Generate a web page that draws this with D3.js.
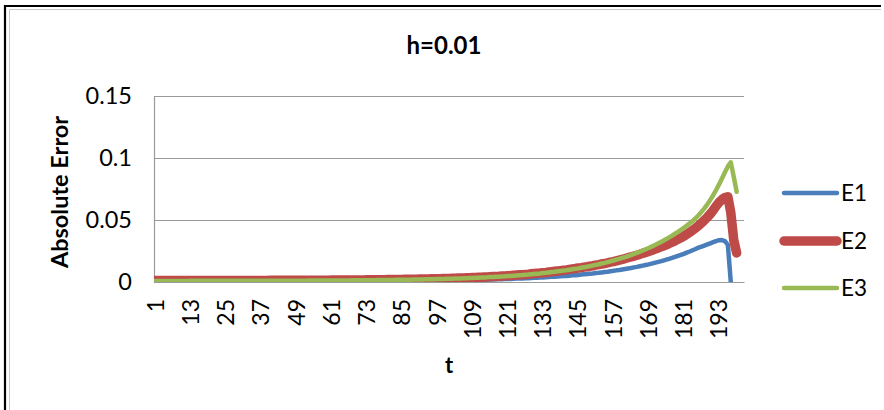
<!DOCTYPE html>
<html>
<head>
<meta charset="utf-8">
<script src="https://cdn.jsdelivr.net/npm/d3@7"></script>
<style>
  html, body { margin: 0; padding: 0; background: #fff; }
  svg { display: block; }
  text { font-family: Lato, "Open Sans", "Liberation Sans", sans-serif; fill: #000; }
</style>
</head>
<body>
<svg id="chart" width="884" height="410"></svg>
<script>
// ---- data ----
const chartTitle = "h=0.01";
const yTitle = "Absolute Error";
const xTitle = "t";
const categories = d3.range(1, 202);               // t = 1 ... 201 (category axis)
const xTickLabels = [1, 13, 25, 37, 49, 61, 73, 85, 97, 109, 121, 133, 145, 157, 169, 181, 193];
const yTickValues = [0, 0.05, 0.1, 0.15];
const yTickLabels = ["0", "0.05", "0.1", "0.15"];
const seriesNames = ["E1", "E2", "E3"];

const E1 = [
  .0005,.0005,.0005,.0005,.0005,.0005,.0005,.0005,.0005,.0005,
  .0005,.0005,.0005,.0005,.0005,.0005,.0005,.0005,.0005,.0005,
  .0005,.0005,.0005,.0005,.0005,.0005,.0005,.0005,.0005,.0005,
  .0005,.0005,.0005,.0005,.0005,.0005,.0005,.0005,.0005,.0006,
  .0006,.0006,.0006,.0006,.0006,.0006,.0006,.0006,.0006,.0006,
  .0006,.0006,.0006,.0006,.0006,.0006,.0006,.0006,.0006,.0006,
  .0007,.0007,.0007,.0007,.0007,.0007,.0007,.0007,.0007,.0007,
  .0007,.0007,.0008,.0008,.0008,.0008,.0008,.0008,.0008,.0009,
  .0009,.0009,.0009,.0009,.0009,.0010,.0010,.0010,.0010,.0010,
  .0011,.0011,.0011,.0011,.0012,.0012,.0012,.0012,.0013,.0014,
  .0014,.0014,.0015,.0015,.0015,.0016,.0016,.0017,.0017,.0018,
  .0018,.0019,.0019,.0020,.0021,.0021,.0022,.0022,.0023,.0024,
  .0025,.0025,.0027,.0028,.0029,.0029,.0030,.0031,.0033,.0034,
  .0035,.0036,.0037,.0038,.0040,.0042,.0043,.0045,.0046,.0048,
  .0049,.0051,.0054,.0055,.0057,.0060,.0062,.0064,.0067,.0069,
  .0072,.0074,.0077,.0080,.0083,.0087,.0090,.0094,.0097,.0101,
  .0105,.0109,.0113,.0118,.0122,.0127,.0132,.0137,.0142,.0148,
  .0154,.0160,.0166,.0173,.0180,.0187,.0194,.0202,.0210,.0218,
  .0227,.0237,.0246,.0256,.0266,.0277,.0285,.0294,.0303,.0312,
  .0321,.0330,.0337,.0338,.0330,.0300,.0000
];
const E2 = [
  .0012,.0012,.0012,.0012,.0012,.0012,.0012,.0012,.0012,.0012,
  .0012,.0012,.0013,.0013,.0013,.0013,.0013,.0013,.0013,.0013,
  .0013,.0013,.0013,.0013,.0013,.0013,.0013,.0013,.0013,.0013,
  .0013,.0013,.0013,.0013,.0013,.0013,.0013,.0013,.0013,.0014,
  .0014,.0014,.0014,.0014,.0014,.0014,.0014,.0014,.0014,.0014,
  .0014,.0014,.0015,.0015,.0015,.0015,.0015,.0015,.0015,.0015,
  .0016,.0016,.0016,.0016,.0016,.0016,.0016,.0017,.0017,.0017,
  .0017,.0017,.0018,.0018,.0018,.0018,.0019,.0019,.0019,.0020,
  .0020,.0020,.0021,.0021,.0021,.0022,.0022,.0022,.0023,.0023,
  .0024,.0024,.0025,.0025,.0026,.0026,.0027,.0027,.0028,.0029,
  .0029,.0030,.0031,.0032,.0032,.0033,.0034,.0035,.0036,.0037,
  .0038,.0039,.0040,.0041,.0043,.0044,.0045,.0046,.0048,.0049,
  .0051,.0052,.0054,.0056,.0058,.0059,.0061,.0063,.0066,.0068,
  .0070,.0072,.0075,.0077,.0080,.0083,.0086,.0089,.0092,.0095,
  .0098,.0102,.0106,.0109,.0113,.0116,.0120,.0123,.0127,.0131,
  .0136,.0140,.0145,.0149,.0154,.0160,.0165,.0171,.0177,.0183,
  .0189,.0196,.0202,.0209,.0216,.0223,.0231,.0238,.0246,.0254,
  .0263,.0272,.0281,.0290,.0300,.0310,.0321,.0332,.0344,.0356,
  .0370,.0385,.0401,.0418,.0436,.0455,.0476,.0498,.0522,.0548,
  .0578,.0612,.0642,.0665,.0681,.0688,.0560,.0340,.0234
];
const E3 = [
  .0009,.0009,.0009,.0009,.0009,.0009,.0009,.0009,.0009,.0009,
  .0009,.0009,.0010,.0010,.0010,.0010,.0010,.0010,.0010,.0010,
  .0010,.0010,.0010,.0010,.0010,.0010,.0010,.0010,.0010,.0010,
  .0010,.0010,.0010,.0010,.0010,.0010,.0010,.0010,.0010,.0011,
  .0011,.0011,.0011,.0011,.0011,.0011,.0011,.0011,.0011,.0011,
  .0011,.0011,.0012,.0012,.0012,.0012,.0012,.0012,.0012,.0012,
  .0013,.0013,.0013,.0013,.0013,.0013,.0013,.0014,.0014,.0014,
  .0014,.0014,.0015,.0015,.0015,.0015,.0016,.0016,.0016,.0017,
  .0017,.0017,.0018,.0018,.0018,.0019,.0019,.0019,.0020,.0020,
  .0021,.0021,.0022,.0022,.0023,.0023,.0024,.0024,.0025,.0026,
  .0026,.0027,.0028,.0029,.0029,.0030,.0031,.0032,.0033,.0034,
  .0035,.0036,.0037,.0038,.0040,.0041,.0042,.0043,.0045,.0046,
  .0048,.0049,.0051,.0053,.0055,.0056,.0058,.0060,.0063,.0065,
  .0067,.0069,.0072,.0074,.0077,.0080,.0083,.0086,.0089,.0092,
  .0095,.0099,.0103,.0106,.0110,.0115,.0119,.0123,.0128,.0133,
  .0138,.0143,.0149,.0154,.0160,.0167,.0173,.0180,.0187,.0194,
  .0201,.0209,.0217,.0226,.0235,.0244,.0254,.0264,.0274,.0285,
  .0296,.0308,.0320,.0333,.0346,.0360,.0374,.0389,.0404,.0420,
  .0437,.0455,.0473,.0492,.0514,.0538,.0565,.0594,.0626,.0662,
  .0700,.0742,.0787,.0835,.0885,.0932,.0965,.0850,.0728
];
const seriesValues = [E1, E2, E3];
const seriesColors = ["#4A7EBB", "#BE4B48", "#98B954"];
const seriesWidths = [4.5, 9.5, 4.5];

// ---- layout ----
const svg = d3.select("#chart");
const plot = { left: 154, right: 744, top: 96, bottom: 282 };
const FONT = "Lato, 'Open Sans', sans-serif";

// outer frame
svg.append("rect").attr("x", 0).attr("y", 0).attr("width", 884).attr("height", 410).attr("fill", "#fff");
svg.append("path").attr("d", "M5,412 L5,6 L881,6").attr("fill", "none").attr("stroke", "#000").attr("stroke-width", 2.2);
svg.append("path").attr("d", "M9.5,412 L9.5,9.5 L881,9.5").attr("fill", "none").attr("stroke", "#c8c8c8").attr("stroke-width", 1);

const x = d3.scaleBand().domain(categories).range([plot.left, plot.right]).padding(0);
const y = d3.scaleLinear().domain([0, 0.15]).range([plot.bottom, plot.top]);
const cx = t => x(t) + x.bandwidth() / 2;

// gridlines + y axis labels
const yAxis = d3.axisLeft(y).tickValues(yTickValues)
  .tickSize(-(plot.right - plot.left)).tickPadding(22)
  .tickFormat((d, i) => yTickLabels[i]);
const gy = svg.append("g").attr("transform", `translate(${plot.left},0)`).call(yAxis);
gy.select(".domain").attr("stroke", "#9a9a9a").attr("stroke-width", 1.2);
gy.selectAll(".tick line").attr("stroke", "#9a9a9a").attr("stroke-width", 1.2);
gy.selectAll(".tick text").attr("font-size", 23.5).attr("font-family", FONT).attr("fill", "#000");

// x axis
const xAxis = d3.axisBottom(x).tickValues(xTickLabels).tickSize(0).tickPadding(0);
const gx = svg.append("g").attr("transform", `translate(0,${plot.bottom})`).call(xAxis);
gx.select(".domain").attr("stroke", "#9a9a9a").attr("stroke-width", 1.2);
gx.selectAll(".tick text")
  .attr("font-size", 23).attr("font-family", FONT).attr("fill", "#000")
  .attr("transform", "rotate(-90)")
  .attr("text-anchor", "end")
  .attr("x", -17).attr("y", 0).attr("dy", "0.36em");

// clip for series
svg.append("clipPath").attr("id", "plotclip").append("rect")
  .attr("x", plot.left).attr("y", plot.top - 20)
  .attr("width", plot.right - plot.left).attr("height", plot.bottom - plot.top + 20);

const line = d3.line().x((d, i) => cx(categories[i])).y(d => y(d));
const gs = svg.append("g").attr("clip-path", "url(#plotclip)");
seriesValues.forEach((vals, k) => {
  gs.append("path").datum(vals)
    .attr("d", line)
    .attr("fill", "none")
    .attr("stroke", seriesColors[k])
    .attr("stroke-width", seriesWidths[k])
    .attr("stroke-linejoin", "round")
    .attr("stroke-linecap", "round");
});

// titles
svg.append("text").attr("x", 444).attr("y", 54).attr("text-anchor", "middle")
  .attr("font-size", 24).attr("font-weight", "bold").text(chartTitle);
svg.append("text").attr("transform", "translate(68,192) rotate(-90)").attr("text-anchor", "middle")
  .attr("font-size", 23.5).attr("font-weight", "bold").text(yTitle);
svg.append("text").attr("x", 449).attr("y", 373).attr("text-anchor", "middle")
  .attr("font-size", 22).attr("font-weight", "bold").text(xTitle);

// legend
const legendY = [193, 241, 288];
const lg = svg.append("g");
seriesNames.forEach((name, k) => {
  lg.append("line").attr("x1", 784).attr("x2", 837)
    .attr("y1", legendY[k]).attr("y2", legendY[k])
    .attr("stroke", seriesColors[k]).attr("stroke-width", seriesWidths[k])
    .attr("stroke-linecap", "round");
  lg.append("text").attr("x", 841).attr("y", legendY[k]).attr("dy", "0.36em")
    .attr("font-size", 22.5).text(name);
});
</script>
</body>
</html>
